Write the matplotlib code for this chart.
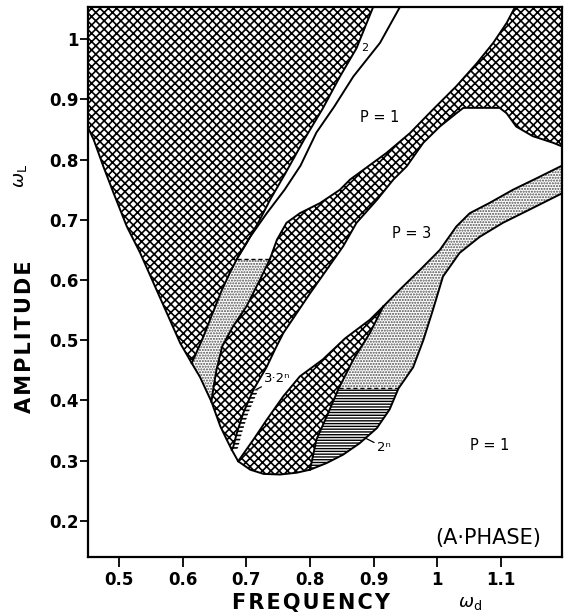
import matplotlib
matplotlib.use("Agg")
import matplotlib.pyplot as plt

plt.rcParams['font.family'] = ['DejaVu Sans']
plt.rcParams['hatch.linewidth'] = 1.2

# outer boundary: left spine -> around the bottom of the V -> right spine
outer_x = [0.451, 0.460, 0.475, 0.491, 0.512, 0.533, 0.554, 0.575, 0.596, 0.614,
           0.627, 0.645, 0.659, 0.669, 0.677, 0.687, 0.706, 0.727, 0.753, 0.779,
           0.800, 0.826, 0.852, 0.878, 0.905, 0.925, 0.939, 0.962, 0.978, 0.993,
           1.009, 1.035, 1.067, 1.103, 1.145, 1.196]
outer_y = [0.853, 0.833, 0.789, 0.745, 0.689, 0.645, 0.595, 0.545, 0.495, 0.462,
           0.439, 0.398, 0.357, 0.335, 0.318, 0.299, 0.285, 0.278, 0.277, 0.280,
           0.285, 0.296, 0.310, 0.329, 0.354, 0.385, 0.420, 0.455, 0.500, 0.550,
           0.606, 0.645, 0.672, 0.695, 0.717, 0.744]
I_JUNC, I_BTIP, I_CTIP, I_ESTART, I_EG, I_GF = 9, 11, 14, 15, 20, 26

# left edge of the dotted wedge (junction -> dashed line)
bl_x = [0.614, 0.630, 0.645, 0.660, 0.673, 0.685]
bl_y = [0.462, 0.500, 0.540, 0.580, 0.610, 0.635]
# right edge of the big chaotic region above the wedge
ar_x = [0.685, 0.700, 0.721, 0.737, 0.760, 0.790, 0.820, 0.847, 0.873, 0.899]
ar_y = [0.635, 0.661, 0.700, 0.733, 0.775, 0.832, 0.885, 0.938, 0.985, 1.053]
# period-2 line
p2_x = [0.687, 0.706, 0.732, 0.760, 0.785, 0.810, 0.838, 0.868, 0.910, 0.941]
p2_y = [0.639, 0.672, 0.711, 0.750, 0.790, 0.845, 0.888, 0.938, 0.994, 1.053]
# right edge of dotted wedge (wedge tip -> dashed line)
br_x = [0.645, 0.648, 0.653, 0.662, 0.679, 0.700, 0.721, 0.737]
br_y = [0.398, 0.420, 0.451, 0.490, 0.523, 0.556, 0.600, 0.635]
# upper-left edge of middle chaotic band
du_x = [0.737, 0.748, 0.763, 0.784, 0.816, 0.847, 0.863, 0.920, 0.957, 0.993,
        1.030, 1.062, 1.088, 1.109, 1.122]
du_y = [0.635, 0.667, 0.695, 0.711, 0.728, 0.750, 0.767, 0.811, 0.844, 0.883,
        0.922, 0.960, 0.994, 1.027, 1.053]
# lower-right edge of middle chaotic band (right spine -> tip)
dl_x = [1.196, 1.182, 1.150, 1.124, 1.109, 1.098, 1.041, 1.030, 1.004, 0.978,
        0.952, 0.931, 0.905, 0.873, 0.852, 0.826, 0.800, 0.779, 0.758, 0.745,
        0.732, 0.711, 0.695, 0.685, 0.679, 0.677]
dl_y = [0.822, 0.828, 0.839, 0.855, 0.877, 0.886, 0.886, 0.877, 0.855, 0.828,
        0.789, 0.767, 0.733, 0.695, 0.656, 0.617, 0.578, 0.545, 0.512, 0.485,
        0.456, 0.418, 0.379, 0.346, 0.322, 0.318]
# lower chaotic band
el_x = [0.687, 0.711, 0.732, 0.758, 0.784, 0.820, 0.855, 0.894, 0.915]
el_y = [0.299, 0.335, 0.368, 0.407, 0.440, 0.468, 0.503, 0.534, 0.556]
er_x = [0.915, 0.894, 0.868, 0.845, 0.826, 0.810, 0.800]
er_y = [0.556, 0.512, 0.468, 0.420, 0.373, 0.335, 0.285]
# upper edge of lower dotted band
fu_x = [0.915, 0.941, 0.973, 1.004, 1.030, 1.051, 1.082, 1.119, 1.156, 1.196]
fu_y = [0.556, 0.584, 0.617, 0.650, 0.689, 0.711, 0.728, 0.750, 0.769, 0.790]

XMIN, XMAX, YMIN, YMAX = 0.451, 1.196, 0.140, 1.053
xticks = [0.5, 0.6, 0.7, 0.8, 0.9, 1.0, 1.1]
xticklabels = ['0.5', '0.6', '0.7', '0.8', '0.9', '1', '1.1']
yticks = [0.2, 0.3, 0.4, 0.5, 0.6, 0.7, 0.8, 0.9, 1.0]
yticklabels = ['0.2', '0.3', '0.4', '0.5', '0.6', '0.7', '0.8', '0.9', '1']

fig = plt.figure(figsize=(5.65, 6.14), dpi=100)
ax = fig.add_axes([88/565, 1-557/614, (562-88)/565, (557-7.3)/614])

CROSS = 'xxxx'
DOTS = '......'
LINES = '------'

def patch(xs, ys, hatch, hc='black', hlw=None):
    p, = ax.fill(xs, ys, facecolor='white', edgecolor=hc, hatch=hatch, linewidth=0)
    if hlw is not None and hasattr(p, 'set_hatch_linewidth'):
        p.set_hatch_linewidth(hlw)
    return p

# A: big region top left
ax_ = [XMIN] + outer_x[:I_JUNC+1] + bl_x[1:] + ar_x[1:]
ay_ = [YMAX] + outer_y[:I_JUNC+1] + bl_y[1:] + ar_y[1:]
patch(ax_, ay_, CROSS)

# B: dotted wedge
bx = outer_x[I_JUNC:I_BTIP+1] + br_x[1:] + bl_x[::-1]
by = outer_y[I_JUNC:I_BTIP+1] + br_y[1:] + bl_y[::-1]
patch(bx, by, DOTS, hc='0.3', hlw=1.0)

# D: middle crosshatched band
dx = outer_x[I_BTIP:I_CTIP+1][::-1] + br_x[1:] + du_x[1:] + [XMAX] + dl_x
dy = outer_y[I_BTIP:I_CTIP+1][::-1] + br_y[1:] + du_y[1:] + [YMAX] + dl_y
patch(dx, dy, CROSS)

# E: lower crosshatched band
ex = el_x + er_x[1:] + outer_x[I_ESTART:I_EG+1][::-1]
ey = el_y + er_y[1:] + outer_y[I_ESTART:I_EG+1][::-1]
patch(ex, ey, CROSS)

# F: lower dotted band
fx = er_x[:4] + outer_x[I_GF:] + fu_x[::-1]
fy = er_y[:4] + outer_y[I_GF:] + fu_y[::-1]
patch(fx, fy, DOTS, hc='0.3', hlw=1.0)

# G: period doubling cascade (2^n)
gx = outer_x[I_EG:I_GF+1][::-1] + er_x[3:][::-1]
gy = outer_y[I_EG:I_GF+1][::-1] + er_y[3:][::-1]
patch(gx, gy, LINES, hlw=1.0)

# 3*2^n cascade: short dashes on the right of the band edge
hx = dl_x[-5:] + [v + 0.008 for v in dl_x[-5:][::-1]]
hy = dl_y[-5:] + dl_y[-5:][::-1]
ax.fill(hx, hy, facecolor='none', edgecolor='black', hatch='----', linewidth=0)

lw = 1.4
ax.plot(outer_x, outer_y, color='black', lw=lw)
for xs, ys in [(bl_x, bl_y), (ar_x, ar_y), (p2_x, p2_y), (br_x, br_y),
               (du_x, du_y), (dl_x, dl_y), (el_x, el_y), (er_x, er_y), (fu_x, fu_y)]:
    ax.plot(xs, ys, color='black', lw=lw)
ax.plot([bl_x[-1], br_x[-1]], [bl_y[-1], br_y[-1]], color='black', lw=1.0, ls=(0, (3, 2)))
ax.plot([er_x[3], outer_x[I_GF]], [er_y[3], outer_y[I_GF]], color='black', lw=1.0, ls=(0, (3, 2)))

# labels inside the plot
ax.text(0.910, 0.870, 'P = 1', fontsize=10.5, ha='center', va='center')
ax.text(0.960, 0.678, 'P = 3', fontsize=10.5, ha='center', va='center')
ax.text(1.082, 0.326, 'P = 1', fontsize=10.5, ha='center', va='center')
ax.text(1.080, 0.172, '(A·PHASE)', fontsize=15, ha='center', va='center')
ax.text(0.886, 0.985, '2', fontsize=8, ha='center', va='center',
        bbox=dict(facecolor='white', edgecolor='none', pad=0.5))
ax.annotate('3·2ⁿ', xy=(0.713, 0.417), xytext=(0.728, 0.436), fontsize=9.5,
            ha='left', va='center',
            arrowprops=dict(arrowstyle='-', lw=0.9, shrinkA=0, shrinkB=1))
ax.annotate('2ⁿ', xy=(0.886, 0.338), xytext=(0.905, 0.322), fontsize=9.5,
            ha='left', va='center',
            arrowprops=dict(arrowstyle='-', lw=0.9, shrinkA=0, shrinkB=1))

ax.set_xlim(XMIN, XMAX)
ax.set_ylim(YMIN, YMAX)
ax.set_xticks(xticks)
ax.set_xticklabels(xticklabels, fontweight='bold', fontsize=12)
ax.set_yticks(yticks)
ax.set_yticklabels(yticklabels, fontweight='bold', fontsize=12)
ax.tick_params(axis='x', direction='out', length=7, width=1.3, pad=3)
ax.tick_params(axis='y', direction='out', length=6, width=1.3, pad=1)
for s in ax.spines.values():
    s.set_linewidth(1.6)

sp = '\u200a'
fig.text(0.551, 0.018, sp.join('FREQUENCY'), fontsize=15, fontweight='bold',
         ha='center', va='center')
fig.text(0.832, 0.018, r'$\omega_{\rm d}$', fontsize=13, ha='center', va='center')
fig.text(0.044, 0.451, sp.join('AMPLITUDE'), fontsize=15, fontweight='bold', rotation=90,
         ha='center', va='center')
fig.text(0.035, 0.713, r'$\omega_{\rm L}$', fontsize=13, rotation=90, ha='center', va='center')

fig.savefig('out.png', dpi=100)
